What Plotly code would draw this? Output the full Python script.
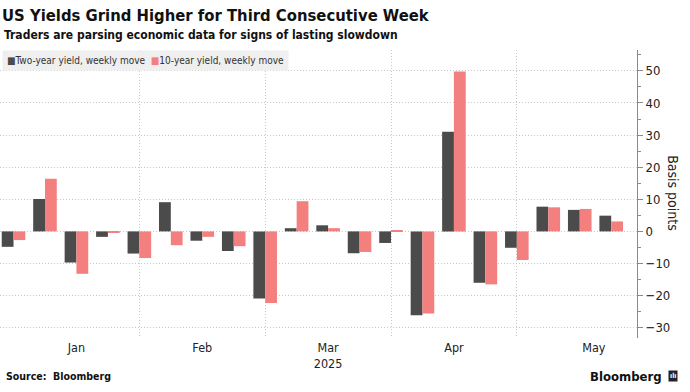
import plotly.graph_objects as go

weeks = ["2025-01-03", "2025-01-10", "2025-01-17", "2025-01-24", "2025-01-31",
         "2025-02-07", "2025-02-14", "2025-02-21", "2025-02-28", "2025-03-07",
         "2025-03-14", "2025-03-21", "2025-03-28", "2025-04-04", "2025-04-11",
         "2025-04-18", "2025-04-25", "2025-05-02", "2025-05-09", "2025-05-16"]
two_year = [-4.8, 10.1, -9.7, -1.7, -6.9, 9.1, -2.9, -6.1, -20.9, 1.0,
            1.9, -6.8, -3.6, -26.1, 31.0, -16.0, -5.1, 7.7, 6.7, 4.9]
ten_year = [-2.7, 16.4, -13.2, -0.5, -8.3, -4.3, -1.7, -4.6, -22.3, 9.4,
            1.0, -6.4, 0.4, -25.6, 49.8, -16.5, -8.9, 7.5, 7.0, 3.1]
month_labels = ["Jan", "Feb", "Mar<br>2025", "Apr", "May"]
month_label_pos = [2.0, 6.0, 10.0, 14.0, 18.45]
month_starts = [4, 8, 12, 16]
y_ticks = [-30, -20, -10, 0, 10, 20, 30, 40, 50]

name2 = "Two-year yield, weekly move"
name10 = "10-year yield, weekly move"
c2 = "#4b4b4b"
c10 = "#f47f7f"

x = list(range(len(weeks)))
FONT = "DejaVu Sans Condensed, Liberation Sans Narrow, Arial Narrow, Roboto, sans-serif"
DOT = "1px,2px"

fig = go.Figure()
fig.add_trace(go.Bar(x=x, y=two_year, name=name2, marker_color=c2,
                     marker_line_width=0, customdata=weeks))
fig.add_trace(go.Bar(x=x, y=ten_year, name=name10, marker_color=c10,
                     marker_line_width=0, customdata=weeks))

fig.update_layout(
    width=690, height=392,
    margin=dict(l=0, r=53, t=50, b=54),
    paper_bgcolor="white", plot_bgcolor="white",
    barmode="group", bargap=0.25, bargroupgap=0,
    showlegend=False,
    font=dict(family=FONT, color="#222222", size=13),
    title=dict(text="<b>US Yields Grind Higher for Third Consecutive Week</b>",
               font=dict(family=FONT, size=16.5, color="#111111"),
               x=0.003, xanchor="left", xref="container",
               y=1 - 15.5 / 392, yanchor="middle", yref="container"),
)

fig.update_xaxes(
    range=[-0.43, 19.82], tickmode="array", tickvals=month_label_pos,
    ticktext=month_labels, ticks="", showgrid=False, zeroline=False,
    showline=False, tickfont=dict(size=12.5, color="#222222"),
    minor=dict(tickmode="array", tickvals=month_starts, showgrid=True,
               gridcolor="#c8c8c8", griddash=DOT, gridwidth=1, ticks=""),
)
fig.update_yaxes(
    side="right", range=[-33.2, 56.5], tickmode="array", tickvals=y_ticks,
    ticks="outside", ticklen=5, tickcolor="#8a8a8a", tickwidth=1,
    showline=True, linecolor="#8a8a8a", linewidth=1,
    showgrid=True, gridcolor="#c8c8c8", griddash=DOT, gridwidth=1,
    zeroline=False, tickfont=dict(size=13, color="#222222"),
    minor=dict(dtick=5, tick0=0, ticks="outside", ticklen=3,
               tickcolor="#8a8a8a", showgrid=False),
)

legend_text = (f'<span style="color:{c2}">■</span>{name2}  '
               f'<span style="color:{c10}">■</span>{name10}')
fig.add_annotation(text=legend_text, xref="paper", yref="paper",
                   x=0.003, y=1.0, xanchor="left", yanchor="top",
                   showarrow=False, bgcolor="#efefef", borderpad=4,
                   font=dict(family=FONT, size=10, color="#333333"))
fig.add_annotation(text="<b>Traders are parsing economic data for signs of lasting slowdown</b>",
                   xref="paper", yref="paper", x=0.003, y=(338 - 35) / 288,
                   xanchor="left", yanchor="middle", showarrow=False,
                   font=dict(family=FONT, size=12, color="#111111"))
fig.add_annotation(text="Basis points", textangle=90, xref="paper", yref="paper",
                   x=673 / 637, y=0.503, xanchor="center", yanchor="middle",
                   showarrow=False, font=dict(family=FONT, size=14, color="#222222"))
fig.add_annotation(text="<b>Source:  Bloomberg</b>", xref="paper", yref="paper",
                   x=0.006, y=(338 - 376) / 288, xanchor="left", yanchor="middle",
                   showarrow=False, font=dict(family=FONT, size=10.5, color="#111111"))
fig.add_annotation(text="<b>Bloomberg</b>", xref="paper", yref="paper",
                   x=664 / 637, y=(338 - 376) / 288, xanchor="right", yanchor="middle",
                   showarrow=False, font=dict(family=FONT, size=13, color="#111111"))
fig.add_annotation(text="<b>ılı</b>", xref="paper", yref="paper",
                   x=668 / 637, y=(338 - 376) / 288, xanchor="left", yanchor="middle",
                   showarrow=False, bgcolor="#222222", borderpad=1,
                   font=dict(family=FONT, size=7, color="white"))

fig.write_html("out.html", config={"displayModeBar": False},
               post_script="document.body.style.margin='0';")
